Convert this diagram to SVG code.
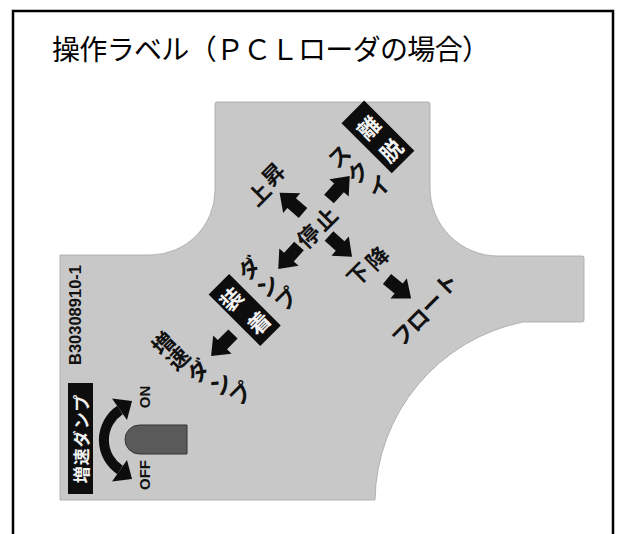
<svg xmlns="http://www.w3.org/2000/svg" width="617" height="534" viewBox="0 0 617 534">
  <defs>
    <style>
      .title { font-family: "Noto Sans CJK JP", "Noto Sans", sans-serif; font-size: 28px; fill: #000; }
      .lbl { font-family: "Noto Sans CJK JP", sans-serif; font-size: 22px; font-weight: 700; fill: #111; text-anchor: middle; dominant-baseline: central; }
      .inv { fill: #f2f2f2; }
      .box { fill: #0d0d0d; }
      .lat { font-family: "Liberation Sans", Arial, sans-serif; font-weight: 700; fill: #111; text-anchor: middle; dominant-baseline: central; }
      .arrow { fill: #0d0d0d; }
    </style>
    <path id="arr" d="M0,-6.5 H15 V-13 L31,0 L15,13 V6.5 H0 Z"/>
  </defs>

  <rect width="617" height="534" fill="#fff"/>
  <path d="M13,534 V11 H613 V534" fill="none" stroke="#000" stroke-width="2.5"/>

  <text class="title" x="52" y="60" textLength="438" lengthAdjust="spacing">操作ラベル（ＰＣＬローダの場合）</text>

  <g id="label-plate">
    <path d="M60,255 H150 A65,65 0 0 0 215,190 V104 Q215,102 217,102 H428 Q430,102 430,104 V188 A68,68 0 0 0 498,256 H582 Q584,256 584,258 V320 Q584,322 582,322 H523 A185,185 0 0 0 375,500 H60 Z" fill="#c8c8c8" stroke="#a4a4a4" stroke-width="0.8"/>
  </g>

  <g id="arrows" class="arrow">
    <use href="#arr" transform="translate(303,213) rotate(-139)"/>
    <use href="#arr" transform="translate(329,199) rotate(-48)"/>
    <use href="#arr" transform="translate(329,236) rotate(42)"/>
    <use href="#arr" transform="translate(299,246) rotate(132)"/>
    <use href="#arr" transform="translate(387,279) rotate(39)"/>
    <use href="#arr" transform="translate(233,334) rotate(135)"/>
  </g>

  <g id="lbl-joushou" transform="translate(265,183) rotate(-45)">
    <text class="lbl" x="-12 12" y="2 -2">上昇</text>
  </g>
  <g id="lbl-teishi" transform="translate(316,226.5) rotate(-45)">
    <text class="lbl" x="-12.4 12.4" y="0 0">停止</text>
  </g>
  <g id="lbl-kakou" transform="translate(366.5,265) rotate(-45)">
    <text class="lbl" x="-12.4 12.4" y="-1 1">下降</text>
  </g>
  <g id="lbl-float" transform="translate(423,308) rotate(-45)">
    <text class="lbl" x="-33 -12 10 33" y="3 3 1 -2">フロート</text>
  </g>
  <g id="lbl-sukui" transform="translate(357.7,170.7) rotate(-45)">
    <text class="lbl" x="-3 -1 4" y="-25 0 24.5">スクイ</text>
  </g>
  <g id="lbl-ridatsu" transform="translate(379,138) rotate(-45)">
    <rect class="box" x="-16" y="-37" width="32" height="71"/>
    <text class="lbl inv" x="0 0" y="-16 16">離脱</text>
  </g>
  <g id="lbl-dump" transform="translate(266.7,283.3) rotate(-45)">
    <text class="lbl" x="-1.7 -1 2.5" y="-24.7 1 23.3">ダンプ</text>
  </g>
  <g id="lbl-souchaku" transform="translate(244,310) rotate(-45)">
    <rect class="box" x="-14" y="-36" width="29" height="73"/>
    <text class="lbl inv" x="-1.4 1.4" y="-18 18">装着</text>
  </g>
  <g id="lbl-zousoku" transform="translate(198,369) rotate(-45)">
    <text class="lbl" x="-6.4 -6.4 -1.4 5.7 12.7" y="-44.5 -23.3 0 25.5 46">増速ダンプ</text>
  </g>

  <g id="part-number">
    <text class="lat" transform="translate(75,315) rotate(-90)" font-size="16.5">B30308910-1</text>
  </g>

  <g id="switch">
    <rect class="box" x="68" y="383" width="25" height="111"/>
    <text transform="translate(80.5,438.5) rotate(-90)" font-family="Noto Sans CJK JP, sans-serif" font-size="17" font-weight="700" fill="#f2f2f2" text-anchor="middle" dominant-baseline="central" letter-spacing="1">増速ダンプ</text>
    <path d="M120,410 A36,36 0 0 0 120,470" fill="none" stroke="#0d0d0d" stroke-width="10"/>
    <polygon points="112,398.5 127,420 132,401" fill="#0d0d0d"/>
    <polygon points="112,481.5 127,460 132,479" fill="#0d0d0d"/>
    <path d="M187,425 H139.5 A14.5,14.5 0 0 0 139.5,454 H187 Z" fill="#5a5a5a" stroke="#333" stroke-width="1"/>
    <text class="lat" transform="translate(144,397) rotate(-90)" font-size="15">ON</text>
    <text class="lat" transform="translate(144,475) rotate(-90)" font-size="15">OFF</text>
  </g>
</svg>
